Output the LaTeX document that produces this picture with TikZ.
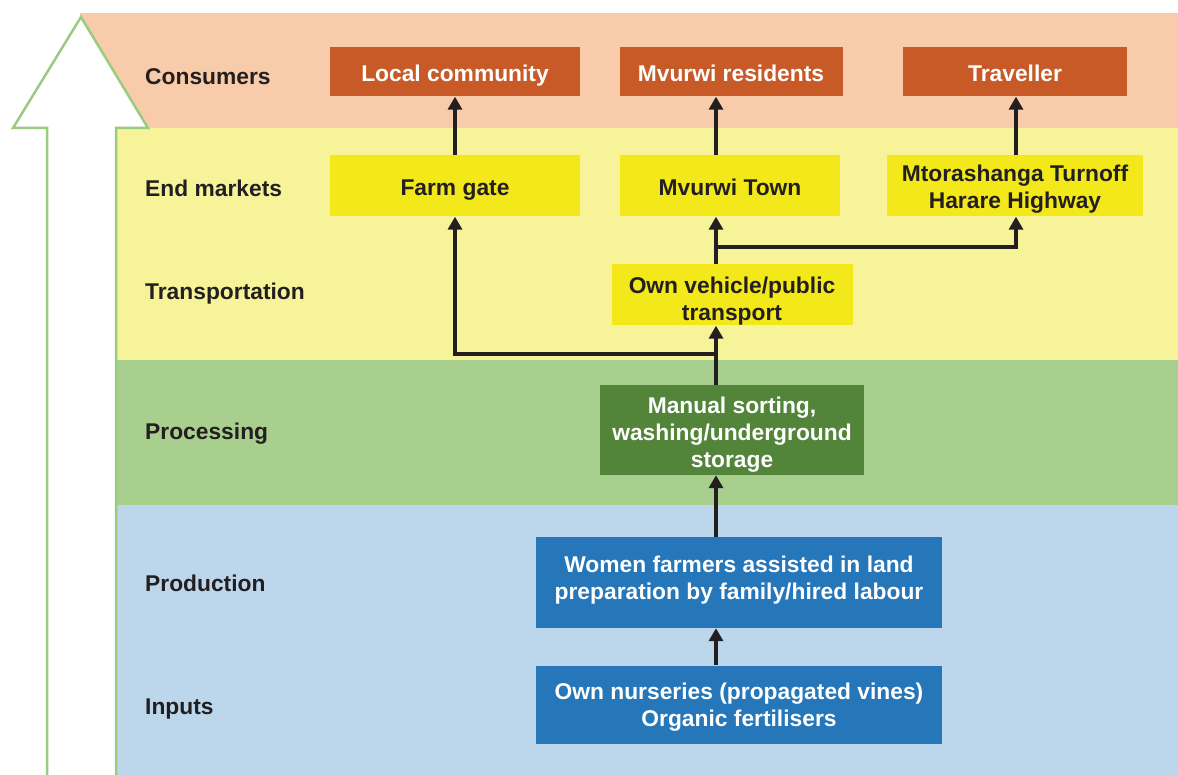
\documentclass[tikz,border=0pt]{standalone}
\usepackage{fontspec}
\setmainfont{Liberation Sans}
\usetikzlibrary{positioning, arrows.meta}

\definecolor{bandpink}{HTML}{F8CBAA}
\definecolor{bandyellow}{HTML}{F7F399}
\definecolor{bandgreen}{HTML}{A9CF8F}
\definecolor{bandblue}{HTML}{BCD7EC}
\definecolor{boxred}{HTML}{C85A28}
\definecolor{boxyellow}{HTML}{F2E81A}
\definecolor{boxgreen}{HTML}{52843A}
\definecolor{boxblue}{HTML}{2676BA}
\definecolor{arrowgreen}{HTML}{9ACB80}
\definecolor{ink}{HTML}{231F20}

\begin{document}
\begin{tikzpicture}[x=1pt, y=-1pt,
    stage/.style = {anchor=west, inner sep=0pt, text=ink, font=\fontsize{22.8}{27}\selectfont\bfseries},
    lift/.style = {execute at begin node=\rule{0pt}{#1}},
    sink/.style = {execute at end node=\rule[-#1]{0pt}{#1}},
    chainbox/.style = {inner sep=0pt, align=center, font=\fontsize{22.8}{27}\selectfont\bfseries,
      lift=23.4pt, sink=5pt},
    redbox/.style = {chainbox, fill=boxred, text=white, minimum width=250, minimum height=49},
    yellowbox/.style = {chainbox, fill=boxyellow, text=ink, minimum height=61},
    greenbox/.style = {chainbox, fill=boxgreen, text=white},
    bluebox/.style = {chainbox, fill=boxblue, text=white, minimum width=406},
    flow/.style = {line width=4, draw=ink, -{Triangle[width=14,length=13]}}
  ]
  \useasboundingbox (0,0) rectangle (1178,775);

  % bands
  \fill[bandpink] (80,13) rectangle (1178,128);
  \fill[bandyellow] (116,128) rectangle (1178,360);
  \fill[bandgreen] (116,360) rectangle (1178,505);
  \fill[bandblue] (116,505) rectangle (1178,775);

  % big arrow
  \draw[arrowgreen, fill=white, line width=2.5]
    (47,780) -- (47,128) -- (13,128) -- (81,17) -- (148,128) -- (116,128) -- (116,780);

  \node[stage] (l1) at (145,77) {Consumers};
  \node[stage] (l2) at (145,188) {End markets};
  \node[stage] (l3) at (145,294) {Transportation};
  \node[stage] (l4) at (145,434) {Processing};
  \node[stage] (l5) at (145,583) {Production};
  \node[stage] (l6) at (145,709) {Inputs};

  \node[redbox] (local) at (455,72) {Local community};
  \node[redbox, minimum width=223] (resid) at (731,72) {Mvurwi residents};
  \node[redbox, minimum width=224] (trav) at (1015,72) {Traveller};

  \node[yellowbox, minimum width=250] (gate) at (455,186) {Farm gate};
  \node[yellowbox, minimum width=220] (town) at (730,186) {Mvurwi Town};
  \node[yellowbox, minimum width=256, lift=49.9pt] (turn) at (1015,186) {Mtorashanga Turnoff\\Harare Highway};

  \node[yellowbox, minimum width=241, lift=56pt] (trans) at (732,295) {Own vehicle/public\\transport};
  \node[greenbox, minimum width=264, minimum height=90, lift=80.4pt] (sort) at (732,430) {Manual sorting,\\washing/underground\\storage};

  \node[bluebox, minimum height=91, sink=10pt] (women) at (739,582.5) {Women farmers assisted in land\\preparation by family/hired labour};
  \node[bluebox, minimum height=78, lift=48.4pt] (nurs) at (739,704.5) {Own nurseries (propagated vines)\\Organic fertilisers};

  \coordinate (trunk) at (716,0);
  \coordinate (gatex) at (455,0);
  \coordinate (turnx) at (1016,0);
  \coordinate (low) at (0,354);
  \coordinate (high) at (0,247);

  \draw[flow] (gate.north) -- (local.south);
  \draw[flow] (trunk |- town.north) -- (trunk |- resid.south);
  \draw[flow] (turnx |- turn.north) -- (turnx |- trav.south);

  \draw[flow] (trunk |- nurs.north) -- (trunk |- women.south);
  \draw[flow] (trunk |- women.north) -- (trunk |- sort.south);
  \draw[flow] (trunk |- sort.north) -- (trunk |- trans.south);
  \draw[flow] (trunk |- trans.north) -- (trunk |- town.south);
  \draw[flow] (trunk |- low) -- (gatex |- low) -- (gatex |- gate.south);
  \draw[flow] (trunk |- high) -- (turnx |- high) -- (turnx |- turn.south);
\end{tikzpicture}
\end{document}
